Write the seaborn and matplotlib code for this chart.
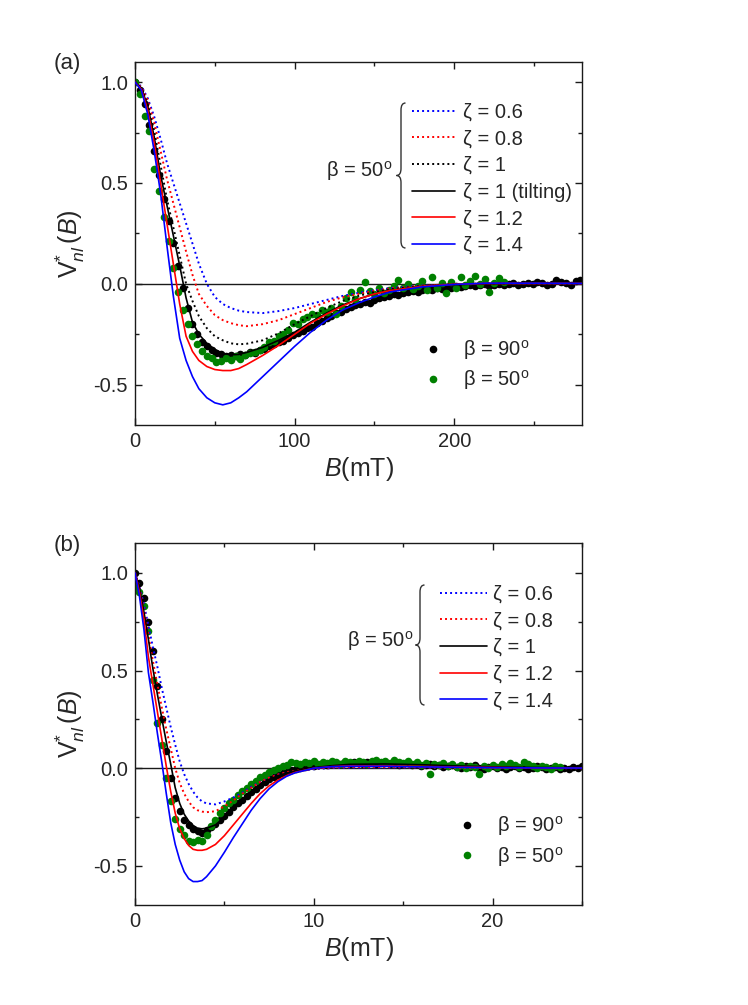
import matplotlib
matplotlib.use("Agg")
import matplotlib.pyplot as plt
from matplotlib.path import Path
from matplotlib.patches import PathPatch
from matplotlib.lines import Line2D
from matplotlib.ticker import MultipleLocator, FormatStrFormatter
import seaborn as sns

# ---------------- panel (a) : model curves (beta = 50 deg) ----------------
Ba_fit = [0, 4, 8, 12, 16, 20, 24, 28, 32, 36, 40, 45, 50, 55, 60, 65, 70, 80, 90,
          100, 110, 120, 130, 140, 150, 160, 180, 200, 220, 250, 280]
a_z06 = [1.0, 0.98, 0.92, 0.83, 0.72, 0.60, 0.50, 0.40, 0.30, 0.20, 0.10, 0.0, -0.065,
         -0.10, -0.12, -0.133, -0.14, -0.145, -0.135, -0.12, -0.10, -0.08, -0.06,
         -0.045, -0.032, -0.021, -0.008, -0.002, 0.001, 0.002, 0.002]
a_z08 = [1.0, 0.975, 0.91, 0.80, 0.66, 0.52, 0.40, 0.28, 0.16, 0.045, -0.05, -0.11,
         -0.155, -0.18, -0.195, -0.205, -0.21, -0.20, -0.18, -0.15, -0.12, -0.09,
         -0.067, -0.05, -0.035, -0.023, -0.009, -0.002, 0.001, 0.002, 0.002]
a_z10 = [1.0, 0.97, 0.89, 0.76, 0.59, 0.42, 0.28, 0.14, 0.0, -0.085, -0.16, -0.22,
         -0.26, -0.28, -0.295, -0.30, -0.297, -0.28, -0.245, -0.20, -0.16, -0.12,
         -0.085, -0.06, -0.04, -0.027, -0.01, -0.002, 0.001, 0.002, 0.002]
a_z10t = [1.0, 0.97, 0.88, 0.73, 0.54, 0.39, 0.24, 0.09, -0.07, -0.19, -0.25, -0.295,
          -0.325, -0.345, -0.352, -0.35, -0.34, -0.315, -0.28, -0.24, -0.19, -0.145,
          -0.105, -0.075, -0.05, -0.033, -0.013, -0.004, 0.0, 0.003, 0.005]
a_z12 = [1.0, 0.965, 0.86, 0.70, 0.50, 0.30, 0.10, -0.10, -0.26, -0.335, -0.38,
         -0.41, -0.425, -0.43, -0.43, -0.42, -0.40, -0.355, -0.305, -0.25, -0.195,
         -0.15, -0.11, -0.075, -0.05, -0.033, -0.012, -0.002, 0.002, 0.002, 0.002]
a_z14 = [1.0, 0.96, 0.84, 0.66, 0.45, 0.19, -0.06, -0.27, -0.38, -0.46, -0.52, -0.565,
         -0.59, -0.60, -0.59, -0.565, -0.535, -0.46, -0.385, -0.31, -0.24, -0.18,
         -0.13, -0.095, -0.065, -0.04, -0.015, -0.003, 0.003, 0.003, 0.002]

# ---------------- panel (a) : measured data ----------------
Ba_b90 = [0, 3, 6, 9, 12, 15, 18, 21, 24, 27, 30, 33, 36, 39, 42, 45, 48, 51, 54, 57,
          60, 63, 66, 69, 72, 75, 78, 81, 84, 87, 90, 93, 96, 99, 102, 105, 108, 111,
          114, 117, 120, 123, 126, 129, 132, 135, 138, 141, 144, 147, 150, 153, 156,
          159, 162, 165, 168, 171, 174, 177, 180, 183, 186, 189, 192, 195, 198, 201,
          204, 207, 210, 213, 216, 219, 222, 225, 228, 231, 234, 237, 240, 243, 246,
          249, 252, 255, 258, 261, 264, 267, 270, 273, 276, 279]
a_b90 = [1.00, 0.96, 0.89, 0.79, 0.66, 0.54, 0.42, 0.31, 0.20, 0.09,
         -0.02, -0.12, -0.20, -0.25, -0.29, -0.31, -0.33, -0.345, -0.35, -0.36,
         -0.355, -0.36, -0.35, -0.355, -0.34, -0.345, -0.33, -0.325, -0.31, -0.30,
         -0.29, -0.285, -0.27, -0.255, -0.245, -0.235, -0.22, -0.215, -0.195, -0.185,
         -0.17, -0.16, -0.145, -0.14, -0.125, -0.115, -0.105, -0.10, -0.09, -0.095,
         -0.08, -0.07, -0.065, -0.06, -0.05, -0.055, -0.045, -0.04, -0.035, -0.04,
         -0.03, -0.025, -0.03, -0.02, -0.025, -0.015, -0.02, -0.01, -0.015, -0.01,
         -0.005, -0.01, -0.005, 0.0, -0.01, -0.005, 0.0, -0.005, 0.0, 0.005,
         -0.005, 0.0, 0.005, 0.0, 0.01, 0.005, -0.005, 0.0, 0.02, 0.01,
         0.005, -0.005, 0.015, 0.02]
Ba_b50 = [0, 3, 6, 9, 12, 15, 18, 21, 24, 27, 30, 33, 36, 39, 42, 45, 48, 51, 54, 57,
          60, 63, 66, 69, 72, 75, 78, 81, 84, 87, 90, 93, 96, 99, 102, 105, 108, 111,
          114, 117, 120, 123, 126, 129, 132, 135, 138, 141, 144, 147, 150, 153, 156,
          159, 162, 165, 168, 171, 174, 177, 180, 183, 186, 189, 192, 195, 198, 201,
          204, 207, 210, 213, 216, 219, 222, 225, 228, 231]
a_b50 = [1.00, 0.94, 0.83, 0.76, 0.57, 0.46, 0.33, 0.21, 0.08, -0.04,
         -0.13, -0.20, -0.26, -0.30, -0.335, -0.36, -0.37, -0.39, -0.385, -0.37,
         -0.38, -0.36, -0.375, -0.355, -0.345, -0.34, -0.33, -0.315, -0.29, -0.285,
         -0.26, -0.25, -0.23, -0.195, -0.20, -0.175, -0.165, -0.15, -0.155, -0.13,
         -0.14, -0.12, -0.15, -0.11, -0.07, -0.04, -0.075, -0.03, 0.01, -0.035,
         -0.05, -0.02, -0.045, -0.03, -0.01, 0.02, -0.02, 0.0, -0.025, -0.01,
         0.015, -0.03, 0.035, -0.02, 0.005, -0.045, 0.01, -0.02, 0.035, -0.005,
         0.015, 0.04, 0.0, 0.025, -0.04, 0.005, 0.03, 0.01]

# ---------------- panel (b) : model curves (beta = 50 deg) ----------------
Bb_fit = [0, 0.25, 0.5, 0.75, 1.0, 1.25, 1.5, 1.75, 2.0, 2.25, 2.5, 2.75, 3.0, 3.25,
          3.5, 3.75, 4.0, 4.5, 5.0, 5.5, 6.0, 6.5, 7.0, 7.5, 8.0, 8.5, 9.0, 10, 11,
          12, 14, 16, 18, 20, 22, 25]
b_z06 = [1.0, 0.93, 0.84, 0.73, 0.62, 0.52, 0.41, 0.31, 0.21, 0.12, 0.035, -0.03,
         -0.08, -0.12, -0.15, -0.17, -0.18, -0.185, -0.17, -0.15, -0.125, -0.095,
         -0.07, -0.048, -0.032, -0.022, -0.015, -0.005, 0.001, 0.003, 0.004, 0.004,
         0.003, 0.002, 0.001, 0.0]
b_z08 = [1.0, 0.92, 0.81, 0.68, 0.55, 0.43, 0.31, 0.20, 0.10, 0.0, -0.075, -0.13,
         -0.17, -0.20, -0.215, -0.222, -0.225, -0.22, -0.195, -0.165, -0.13, -0.10,
         -0.07, -0.048, -0.032, -0.02, -0.012, -0.002, 0.004, 0.006, 0.006, 0.005,
         0.003, 0.002, 0.001, 0.0]
b_z10 = [1.0, 0.92, 0.80, 0.66, 0.51, 0.38, 0.255, 0.135, 0.02, -0.10, -0.18, -0.235,
         -0.27, -0.293, -0.307, -0.31, -0.307, -0.29, -0.25, -0.205, -0.16, -0.12,
         -0.085, -0.058, -0.038, -0.024, -0.013, 0.003, 0.013, 0.02, 0.022, 0.018,
         0.012, 0.007, 0.004, 0.002]
b_z12 = [1.0, 0.90, 0.76, 0.57, 0.43, 0.29, 0.15, 0.01, -0.12, -0.23, -0.31, -0.36,
         -0.395, -0.415, -0.42, -0.42, -0.415, -0.39, -0.345, -0.29, -0.235, -0.18,
         -0.13, -0.09, -0.06, -0.037, -0.02, 0.0, 0.008, 0.012, 0.012, 0.009, 0.006,
         0.004, 0.002, 0.001]
b_z14 = [1.0, 0.88, 0.71, 0.49, 0.34, 0.18, 0.03, -0.13, -0.28, -0.39, -0.47, -0.53,
         -0.565, -0.58, -0.58, -0.575, -0.555, -0.50, -0.43, -0.355, -0.285, -0.215,
         -0.155, -0.105, -0.068, -0.04, -0.022, 0.0, 0.008, 0.01, 0.01, 0.007, 0.005,
         0.003, 0.002, 0.001]

# ---------------- panel (b) : measured data ----------------
Bb_b90 = [0.0, 0.25, 0.5, 0.75, 1.0, 1.25, 1.5, 1.75, 2.0, 2.25, 2.5, 2.75, 3.0, 3.25,
          3.5, 3.75, 4.0, 4.25, 4.5, 4.75, 5.0, 5.25, 5.5, 5.75, 6.0, 6.25, 6.5, 6.75,
          7.0, 7.25, 7.5, 7.75, 8.0, 8.25, 8.5, 8.75, 9.0, 9.25, 9.5, 9.75, 10.0,
          10.25, 10.5, 10.75, 11.0, 11.25, 11.5, 11.75, 12.0, 12.25, 12.5, 12.75,
          13.0, 13.25, 13.5, 13.75, 14.0, 14.25, 14.5, 14.75, 15.0, 15.25, 15.5,
          15.75, 16.0, 16.25, 16.5, 16.75, 17.0, 17.25, 17.5, 17.75, 18.0, 18.25,
          18.5, 18.75, 19.0, 19.25, 19.5, 19.75, 20.0, 20.25, 20.5, 20.75, 21.0,
          21.25, 21.5, 21.75, 22.0, 22.25, 22.5, 22.75, 23.0, 23.25, 23.5, 23.75,
          24.0, 24.25, 24.5, 24.75, 25.0]
b_b90 = [1.00, 0.95, 0.87, 0.75, 0.60, 0.42, 0.25, 0.09, -0.05, -0.15,
         -0.22, -0.265, -0.29, -0.31, -0.32, -0.33, -0.315, -0.30, -0.285, -0.265,
         -0.245, -0.225, -0.20, -0.18, -0.16, -0.14, -0.12, -0.105, -0.085, -0.07,
         -0.055, -0.045, -0.035, -0.025, -0.02, -0.01, -0.005, 0.0, 0.005, 0.01,
         0.01, 0.015, 0.02, 0.015, 0.02, 0.025, 0.02, 0.025, 0.02, 0.03,
         0.025, 0.02, 0.03, 0.025, 0.02, 0.025, 0.03, 0.02, 0.025, 0.015,
         0.02, 0.025, 0.015, 0.02, 0.01, 0.015, 0.02, 0.01, 0.015, 0.005,
         0.01, 0.015, 0.005, 0.0, 0.01, 0.005, 0.015, 0.0, -0.005, 0.005,
         0.01, 0.0, 0.005, -0.005, 0.005, 0.01, 0.0, 0.005, -0.005, 0.0,
         0.01, 0.005, -0.005, 0.0, 0.005, -0.005, 0.0, -0.005, 0.005, 0.0,
         0.01]
Bb_b50 = [0.0, 0.25, 0.5, 0.75, 1.0, 1.25, 1.5, 1.75, 2.0, 2.25, 2.5, 2.75, 3.0, 3.25,
          3.5, 3.75, 4.0, 4.25, 4.5, 4.75, 5.0, 5.25, 5.5, 5.75, 6.0, 6.25, 6.5, 6.75,
          7.0, 7.25, 7.5, 7.75, 8.0, 8.25, 8.5, 8.75, 9.0, 9.25, 9.5, 9.75, 10.0,
          10.25, 10.5, 10.75, 11.0, 11.25, 11.5, 11.75, 12.0, 12.25, 12.5, 12.75,
          13.0, 13.25, 13.5, 13.75, 14.0, 14.25, 14.5, 14.75, 15.0, 15.25, 15.5,
          15.75, 16.0, 16.25, 16.5, 16.75, 17.0, 17.25, 17.5, 17.75, 18.0, 18.25,
          18.5, 18.75, 19.0, 19.25, 19.5, 19.75, 20.0, 20.25, 20.5, 20.75, 21.0,
          21.25, 21.5, 21.75, 22.0, 22.25, 22.5, 22.75, 23.0, 23.25, 23.5, 23.75]
b_b50 = [0.93, 0.90, 0.83, 0.70, 0.45, 0.23, 0.12, -0.05, -0.17, -0.26,
         -0.31, -0.34, -0.37, -0.375, -0.365, -0.37, -0.34, -0.295, -0.265, -0.23,
         -0.205, -0.18, -0.16, -0.135, -0.115, -0.10, -0.08, -0.065, -0.045, -0.035,
         -0.02, -0.01, 0.0, 0.01, 0.015, 0.03, 0.025, 0.02, 0.03, 0.025,
         0.035, 0.02, 0.03, 0.025, 0.035, 0.03, 0.02, 0.035, 0.03, 0.025,
         0.035, 0.03, 0.02, 0.035, 0.04, 0.03, 0.035, 0.025, 0.04, 0.03,
         0.025, 0.035, 0.02, 0.03, 0.015, 0.025, -0.03, 0.02, 0.015, 0.025,
         0.01, 0.02, 0.005, 0.015, 0.0, 0.01, 0.005, -0.03, 0.01, 0.0,
         0.015, 0.005, 0.02, 0.01, 0.025, 0.015, 0.005, 0.03, 0.02, 0.01,
         0.0, 0.01, 0.005, -0.005, 0.01, 0.005]

zeta_labels_a = ["ζ = 0.6", "ζ = 0.8", "ζ = 1", "ζ = 1 (tilting)", "ζ = 1.2", "ζ = 1.4"]
zeta_labels_b = ["ζ = 0.6", "ζ = 0.8", "ζ = 1", "ζ = 1.2", "ζ = 1.4"]
data_labels = ["β = 90$^\\mathregular{o}$", "β = 50$^\\mathregular{o}$"]
beta_text = "β = 50$^\\mathregular{o}$"

BLUE, RED, BLACK, GREEN = "#0000ff", "#ff0000", "#000000", "#008000"
DOT = (0, (1.0, 1.6))
FS = 14.5

sns.set_theme(style="ticks")
plt.rcParams["font.family"] = ["Liberation Sans", "DejaVu Sans"]
plt.rcParams["mathtext.fontset"] = "custom"
plt.rcParams["mathtext.rm"] = "Liberation Sans"
plt.rcParams["mathtext.it"] = "Liberation Sans:italic"
plt.rcParams["mathtext.bf"] = "Liberation Sans:bold"
plt.rcParams["axes.unicode_minus"] = False

W, H = 748, 1005
fig = plt.figure(figsize=(W / 100, H / 100), dpi=100)
axA = fig.add_axes([135 / W, 1 - 425 / H, 447 / W, 363 / H])
axB = fig.add_axes([135 / W, 1 - 905 / H, 447 / W, 362 / H])


def brace(x, y0, y1, w=4.5, r=7):
    # curly brace in figure pixels (origin top-left), tip pointing left
    ym = (y0 + y1) / 2
    pts = [(x + w, y0), (x, y0), (x, y0 + r), (x, ym - r), (x, ym), (x - w, ym),
           (x, ym), (x, ym + r), (x, y1 - r), (x, y1), (x + w, y1)]
    codes = [Path.MOVETO, Path.CURVE3, Path.CURVE3, Path.LINETO, Path.CURVE3,
             Path.CURVE3, Path.CURVE3, Path.CURVE3, Path.LINETO, Path.CURVE3,
             Path.CURVE3]
    pts = [(px / W, 1 - py / H) for px, py in pts]
    fig.add_artist(PathPatch(Path(pts, codes), transform=fig.transFigure,
                             fill=False, lw=1.0, edgecolor="#333333"))


def style_axis(ax, xmaj, xmin, xlim, ylim):
    ax.set_xlim(*xlim)
    ax.set_ylim(*ylim)
    ax.xaxis.set_major_locator(MultipleLocator(xmaj))
    ax.xaxis.set_minor_locator(MultipleLocator(xmin))
    ax.yaxis.set_major_locator(MultipleLocator(0.5))
    ax.yaxis.set_minor_locator(MultipleLocator(0.25))
    ax.xaxis.set_major_formatter(FormatStrFormatter("%d"))
    ax.yaxis.set_major_formatter(FormatStrFormatter("%.1f"))
    ax.tick_params(which="major", direction="in", top=True, right=True,
                   length=5, width=1, labelsize=FS, pad=5, color="k")
    ax.tick_params(which="minor", direction="in", top=True, right=True,
                   length=3, width=1, color="k")
    for s in ax.spines.values():
        s.set_visible(True)
        s.set_linewidth(1.0)
        s.set_color("k")
    ax.set_xlabel("$B$(mT)", fontsize=18, labelpad=3)
    ax.set_ylabel("$\\mathregular{V}^{*}_{nl}\\,(B)$", fontsize=18, labelpad=5)


def draw_panel(ax, Bfit, curves, Bd90, d90, Bd50, d50):
    ax.axhline(0, color="k", lw=1.0, zorder=1)
    sns.scatterplot(x=Bd90, y=d90, ax=ax, color=BLACK, s=30, linewidth=0, zorder=2)
    sns.scatterplot(x=Bd50, y=d50, ax=ax, color=GREEN, s=30, linewidth=0, zorder=2)
    handles = []
    for vals, col, ls in curves:
        lw = 1.4 if ls != "-" else 1.2
        sns.lineplot(x=Bfit, y=vals, ax=ax, color=col, linestyle=ls, lw=lw,
                     zorder=3, sort=False)
        handles.append(Line2D([], [], color=col, linestyle=ls, lw=lw))
    return handles


curves_a = [(a_z06, BLUE, DOT), (a_z08, RED, DOT), (a_z10, BLACK, DOT),
            (a_z10t, BLACK, "-"), (a_z12, RED, "-"), (a_z14, BLUE, "-")]
curves_b = [(b_z06, BLUE, DOT), (b_z08, RED, DOT), (b_z10, BLACK, "-"),
            (b_z12, RED, "-"), (b_z14, BLUE, "-")]

hA = draw_panel(axA, Ba_fit, curves_a, Ba_b90, a_b90, Ba_b50, a_b50)
hB = draw_panel(axB, Bb_fit, curves_b, Bb_b90, b_b90, Bb_b50, b_b50)

style_axis(axA, 100, 50, (0, 280), (-0.7, 1.1))
style_axis(axB, 10, 5, (0, 25), (-0.7, 1.153))

dot_handles = [Line2D([], [], marker="o", color=BLACK, ls="", markersize=5.5,
                      markeredgewidth=0),
               Line2D([], [], marker="o", color=GREEN, ls="", markersize=5.5,
                      markeredgewidth=0)]

for ax, hl, labs, lx, ly, hlen, tpad, dx, dy in [
        (axA, hA, zeta_labels_a, 0.62, 0.888, 2.14, 0.4, 0.617, 0.240),
        (axB, hB, zeta_labels_b, 0.682, 0.885, 2.34, 0.3, 0.694, 0.250)]:
    leg1 = ax.legend(hl, labs, loc="upper left", bbox_to_anchor=(lx, ly),
                     frameon=False, fontsize=FS, handlelength=hlen,
                     handletextpad=tpad, labelspacing=0.38, borderpad=0,
                     borderaxespad=0)
    ax.add_artist(leg1)
    ax.legend(dot_handles, data_labels, loc="upper left", bbox_to_anchor=(dx, dy),
              frameon=False, fontsize=FS, handlelength=2.19, handletextpad=0.4,
              labelspacing=0.31, borderpad=0, borderaxespad=0, numpoints=1)

brace(401, 103, 248)
brace(420, 585, 705)
fig.text(392 / W, 1 - 171 / H, beta_text, fontsize=FS, ha="right", va="center")
fig.text(413 / W, 1 - 641 / H, beta_text, fontsize=FS, ha="right", va="center")
fig.text(67 / W, 1 - 64 / H, "(a)", fontsize=16, ha="center", va="center")
fig.text(67 / W, 1 - 546 / H, "(b)", fontsize=16, ha="center", va="center")

fig.savefig("out.png", dpi=100)
